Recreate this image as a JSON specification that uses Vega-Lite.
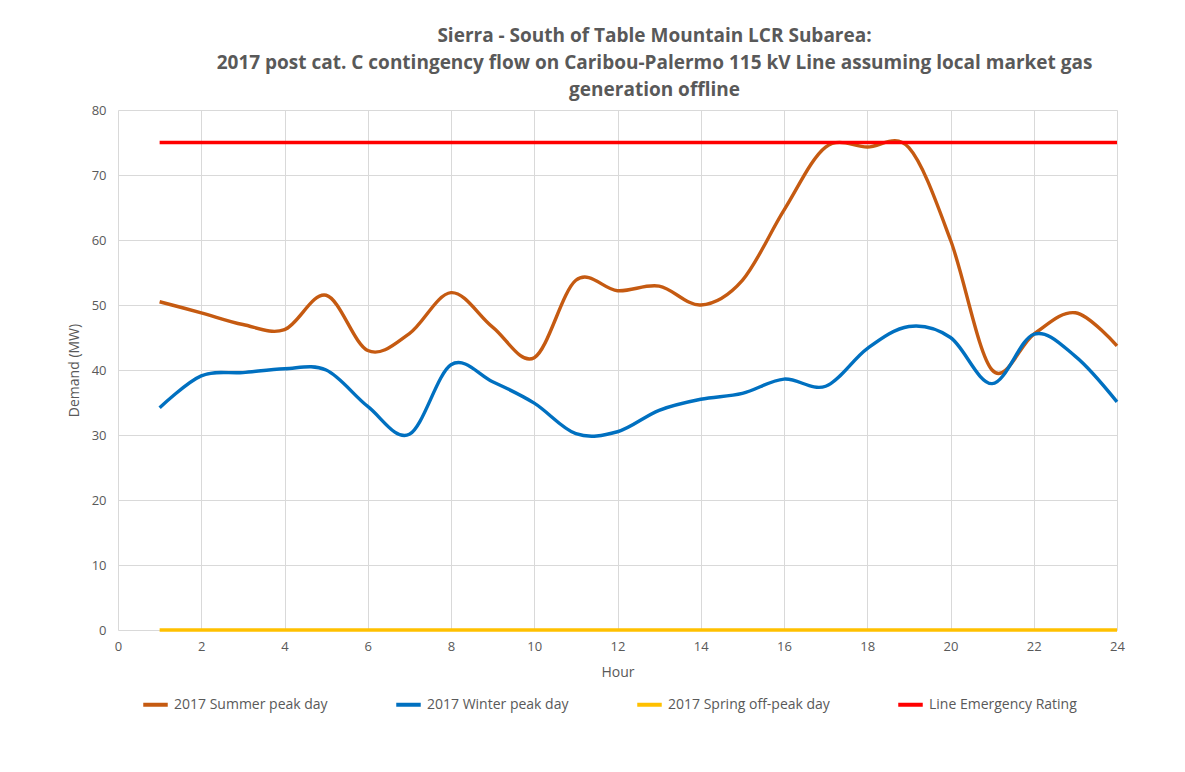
{
  "$schema": "https://vega.github.io/schema/vega-lite/v6.json",
  "width": 999,
  "height": 520,
  "autosize": "none",
  "padding": {"left": 118, "top": 110, "right": 68, "bottom": 142},
  "background": "white",
  "title": {
    "text": ["Sierra - South of Table Mountain LCR Subarea:", "2017 post cat. C contingency flow on Caribou-Palermo 115 kV Line assuming local market gas", "generation offline"],
    "anchor": "middle",
    "dx": 37,
    "offset": 4,
    "font": "Open Sans",
    "fontSize": 19,
    "fontWeight": "bold",
    "color": "#595959",
    "lineHeight": 27
  },
  "data": {
    "values": [
      {"hour": 1, "series": "2017 Summer peak day", "value": 50.5},
      {"hour": 2, "series": "2017 Summer peak day", "value": 48.8},
      {"hour": 3, "series": "2017 Summer peak day", "value": 47.0},
      {"hour": 4, "series": "2017 Summer peak day", "value": 46.2},
      {"hour": 5, "series": "2017 Summer peak day", "value": 51.5},
      {"hour": 6, "series": "2017 Summer peak day", "value": 43.0},
      {"hour": 7, "series": "2017 Summer peak day", "value": 45.6},
      {"hour": 8, "series": "2017 Summer peak day", "value": 51.9},
      {"hour": 9, "series": "2017 Summer peak day", "value": 46.6},
      {"hour": 10, "series": "2017 Summer peak day", "value": 41.9},
      {"hour": 11, "series": "2017 Summer peak day", "value": 53.8},
      {"hour": 12, "series": "2017 Summer peak day", "value": 52.2},
      {"hour": 13, "series": "2017 Summer peak day", "value": 52.9},
      {"hour": 14, "series": "2017 Summer peak day", "value": 50.0},
      {"hour": 15, "series": "2017 Summer peak day", "value": 53.8},
      {"hour": 16, "series": "2017 Summer peak day", "value": 64.6},
      {"hour": 17, "series": "2017 Summer peak day", "value": 74.3},
      {"hour": 18, "series": "2017 Summer peak day", "value": 74.3},
      {"hour": 19, "series": "2017 Summer peak day", "value": 74.2},
      {"hour": 20, "series": "2017 Summer peak day", "value": 60.0},
      {"hour": 21, "series": "2017 Summer peak day", "value": 40.0},
      {"hour": 22, "series": "2017 Summer peak day", "value": 45.5},
      {"hour": 23, "series": "2017 Summer peak day", "value": 48.8},
      {"hour": 24, "series": "2017 Summer peak day", "value": 43.7},
      {"hour": 1, "series": "2017 Winter peak day", "value": 34.2},
      {"hour": 2, "series": "2017 Winter peak day", "value": 39.1},
      {"hour": 3, "series": "2017 Winter peak day", "value": 39.6},
      {"hour": 4, "series": "2017 Winter peak day", "value": 40.2},
      {"hour": 5, "series": "2017 Winter peak day", "value": 40.0},
      {"hour": 6, "series": "2017 Winter peak day", "value": 34.4},
      {"hour": 7, "series": "2017 Winter peak day", "value": 30.1},
      {"hour": 8, "series": "2017 Winter peak day", "value": 40.8},
      {"hour": 9, "series": "2017 Winter peak day", "value": 38.2},
      {"hour": 10, "series": "2017 Winter peak day", "value": 34.9},
      {"hour": 11, "series": "2017 Winter peak day", "value": 30.2},
      {"hour": 12, "series": "2017 Winter peak day", "value": 30.5},
      {"hour": 13, "series": "2017 Winter peak day", "value": 33.8},
      {"hour": 14, "series": "2017 Winter peak day", "value": 35.5},
      {"hour": 15, "series": "2017 Winter peak day", "value": 36.4},
      {"hour": 16, "series": "2017 Winter peak day", "value": 38.6},
      {"hour": 17, "series": "2017 Winter peak day", "value": 37.5},
      {"hour": 18, "series": "2017 Winter peak day", "value": 43.3},
      {"hour": 19, "series": "2017 Winter peak day", "value": 46.7},
      {"hour": 20, "series": "2017 Winter peak day", "value": 45.0},
      {"hour": 21, "series": "2017 Winter peak day", "value": 37.9},
      {"hour": 22, "series": "2017 Winter peak day", "value": 45.5},
      {"hour": 23, "series": "2017 Winter peak day", "value": 42.1},
      {"hour": 24, "series": "2017 Winter peak day", "value": 35.1},
      {"hour": 1, "series": "2017 Spring off-peak day", "value": 0},
      {"hour": 2, "series": "2017 Spring off-peak day", "value": 0},
      {"hour": 3, "series": "2017 Spring off-peak day", "value": 0},
      {"hour": 4, "series": "2017 Spring off-peak day", "value": 0},
      {"hour": 5, "series": "2017 Spring off-peak day", "value": 0},
      {"hour": 6, "series": "2017 Spring off-peak day", "value": 0},
      {"hour": 7, "series": "2017 Spring off-peak day", "value": 0},
      {"hour": 8, "series": "2017 Spring off-peak day", "value": 0},
      {"hour": 9, "series": "2017 Spring off-peak day", "value": 0},
      {"hour": 10, "series": "2017 Spring off-peak day", "value": 0},
      {"hour": 11, "series": "2017 Spring off-peak day", "value": 0},
      {"hour": 12, "series": "2017 Spring off-peak day", "value": 0},
      {"hour": 13, "series": "2017 Spring off-peak day", "value": 0},
      {"hour": 14, "series": "2017 Spring off-peak day", "value": 0},
      {"hour": 15, "series": "2017 Spring off-peak day", "value": 0},
      {"hour": 16, "series": "2017 Spring off-peak day", "value": 0},
      {"hour": 17, "series": "2017 Spring off-peak day", "value": 0},
      {"hour": 18, "series": "2017 Spring off-peak day", "value": 0},
      {"hour": 19, "series": "2017 Spring off-peak day", "value": 0},
      {"hour": 20, "series": "2017 Spring off-peak day", "value": 0},
      {"hour": 21, "series": "2017 Spring off-peak day", "value": 0},
      {"hour": 22, "series": "2017 Spring off-peak day", "value": 0},
      {"hour": 23, "series": "2017 Spring off-peak day", "value": 0},
      {"hour": 24, "series": "2017 Spring off-peak day", "value": 0},
      {"hour": 1, "series": "Line Emergency Rating", "value": 75},
      {"hour": 2, "series": "Line Emergency Rating", "value": 75},
      {"hour": 3, "series": "Line Emergency Rating", "value": 75},
      {"hour": 4, "series": "Line Emergency Rating", "value": 75},
      {"hour": 5, "series": "Line Emergency Rating", "value": 75},
      {"hour": 6, "series": "Line Emergency Rating", "value": 75},
      {"hour": 7, "series": "Line Emergency Rating", "value": 75},
      {"hour": 8, "series": "Line Emergency Rating", "value": 75},
      {"hour": 9, "series": "Line Emergency Rating", "value": 75},
      {"hour": 10, "series": "Line Emergency Rating", "value": 75},
      {"hour": 11, "series": "Line Emergency Rating", "value": 75},
      {"hour": 12, "series": "Line Emergency Rating", "value": 75},
      {"hour": 13, "series": "Line Emergency Rating", "value": 75},
      {"hour": 14, "series": "Line Emergency Rating", "value": 75},
      {"hour": 15, "series": "Line Emergency Rating", "value": 75},
      {"hour": 16, "series": "Line Emergency Rating", "value": 75},
      {"hour": 17, "series": "Line Emergency Rating", "value": 75},
      {"hour": 18, "series": "Line Emergency Rating", "value": 75},
      {"hour": 19, "series": "Line Emergency Rating", "value": 75},
      {"hour": 20, "series": "Line Emergency Rating", "value": 75},
      {"hour": 21, "series": "Line Emergency Rating", "value": 75},
      {"hour": 22, "series": "Line Emergency Rating", "value": 75},
      {"hour": 23, "series": "Line Emergency Rating", "value": 75},
      {"hour": 24, "series": "Line Emergency Rating", "value": 75}
    ]
  },
  "mark": {"type": "line", "interpolate": "cardinal", "tension": 0, "strokeWidth": 3.4},
  "encoding": {
    "x": {
      "field": "hour",
      "type": "quantitative",
      "title": "Hour",
      "scale": {"domain": [0, 24], "nice": false, "zero": false},
      "axis": {"values": [0, 2, 4, 6, 8, 10, 12, 14, 16, 18, 20, 22, 24], "format": "d", "labelPadding": 10, "titlePadding": 12, "labelFlush": false}
    },
    "y": {
      "field": "value",
      "type": "quantitative",
      "title": "Demand (MW)",
      "scale": {"domain": [0, 80], "nice": false},
      "axis": {"values": [0, 10, 20, 30, 40, 50, 60, 70, 80], "labelPadding": 12, "titlePadding": 10, "labelFlush": false}
    },
    "color": {
      "field": "series",
      "type": "nominal",
      "sort": null,
      "scale": {
        "domain": ["2017 Summer peak day", "2017 Winter peak day", "2017 Spring off-peak day", "Line Emergency Rating"],
        "range": ["#C55A11", "#0070C0", "#FFC000", "#FF0000"]
      },
      "legend": {
        "title": null,
        "orient": "none",
        "legendX": 23,
        "legendY": 580,
        "direction": "horizontal",
        "columns": 4,
        "columnPadding": 60,
        "symbolType": "stroke",
        "symbolSize": 600,
        "symbolStrokeWidth": 4,
        "labelFontSize": 14,
        "labelColor": "#595959",
        "labelFont": "Open Sans",
        "labelLimit": 0,
        "labelOffset": 4
      }
    },
    "order": {"field": "series", "sort": "descending"}
  },
  "config": {
    "view": {"stroke": null},
    "axis": {
      "grid": true,
      "gridColor": "#D9D9D9",
      "gridWidth": 1,
      "domain": false,
      "ticks": false,
      "labelFont": "Open Sans",
      "labelFontSize": 13,
      "labelColor": "#595959",
      "titleFont": "Open Sans",
      "titleFontSize": 14,
      "titleFontWeight": "normal",
      "titleColor": "#595959"
    }
  }
}
